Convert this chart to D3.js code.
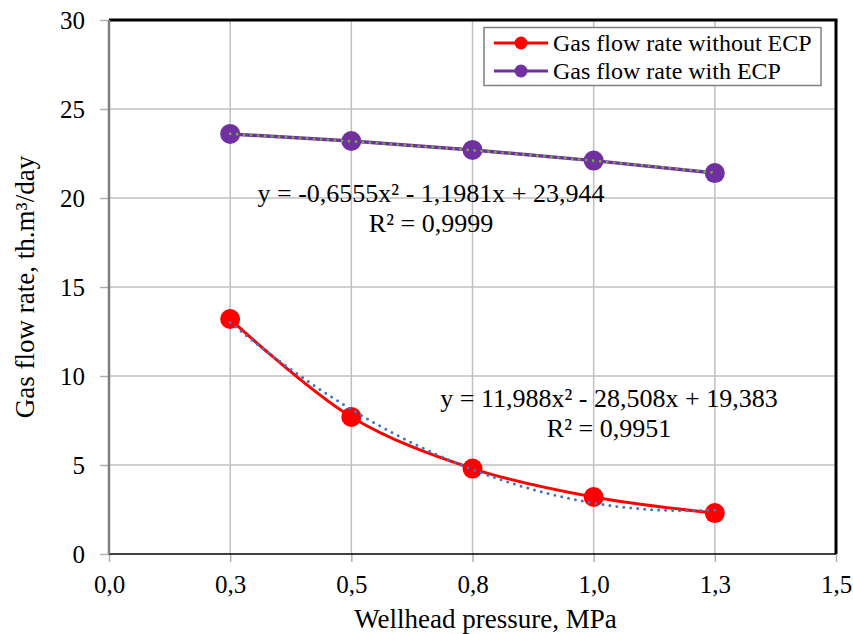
<!DOCTYPE html>
<html>
<head>
<meta charset="utf-8">
<script src="https://cdnjs.cloudflare.com/ajax/libs/d3/7.8.5/d3.min.js"></script>
<style>
  html, body { margin: 0; padding: 0; background: #fff; }
  svg text { font-family: "Liberation Serif", "Times New Roman", serif; fill: #000; }
</style>
</head>
<body>
<svg id="chart" width="853" height="634"></svg>
<script>
// ---- data ----
const pressure = [0.25, 0.5, 0.75, 1.0, 1.25];
const flowWithoutECP = [13.2, 7.7, 4.8, 3.2, 2.3];
const flowWithECP = [23.6, 23.2, 22.7, 22.1, 21.4];
const seriesNames = ["Gas flow rate without ECP", "Gas flow rate with ECP"];
const xTicks = [0, 0.25, 0.5, 0.75, 1.0, 1.25, 1.5];
const xTickLabels = ["0,0", "0,3", "0,5", "0,8", "1,0", "1,3", "1,5"];
const yTicks = [0, 5, 10, 15, 20, 25, 30];
const yTickLabels = ["0", "5", "10", "15", "20", "25", "30"];
// polynomial trendline coefficients [a, b, c] for a*x^2 + b*x + c (as shown on chart)
const trendWithout = [11.988, -28.508, 19.383];
const trendWith = [-0.6555, -1.1981, 23.944];
const eqWithout = ["y = 11,988x² - 28,508x + 19,383", "R² = 0,9951"];
const eqWith = ["y = -0,6555x² - 1,1981x + 23,944", "R² = 0,9999"];

// ---- layout ----
const svg = d3.select("#chart");
const L = 109, R = 836, T = 20, B = 554;
const x = d3.scaleLinear().domain([0, 1.5]).range([L, R]);
const y = d3.scaleLinear().domain([0, 30]).range([B, T]);
const font = '"Liberation Serif", "Times New Roman", serif';

// gridlines
svg.append("g").selectAll("line").data(xTicks.slice(1)).join("line")
  .attr("x1", d => x(d)).attr("x2", d => x(d)).attr("y1", T).attr("y2", B)
  .attr("stroke", "#c0c0c0").attr("stroke-width", 1.5);
svg.append("g").selectAll("line").data(yTicks.slice(1)).join("line")
  .attr("x1", L).attr("x2", R).attr("y1", d => y(d)).attr("y2", d => y(d))
  .attr("stroke", "#c0c0c0").attr("stroke-width", 1.5);

// axes
const xAxis = d3.axisBottom(x).tickValues(xTicks).tickSize(8).tickFormat((d, i) => xTickLabels[i]);
const gx = svg.append("g").attr("transform", `translate(0,${B})`).call(xAxis);
gx.select(".domain").remove();
gx.selectAll(".tick line").attr("stroke", "#b0b0b0").attr("stroke-width", 1.5);
gx.selectAll(".tick text").attr("font-family", font).attr("font-size", 25).attr("fill", "#000").attr("dy", "0.95em").attr("y", 15);

const yAxis = d3.axisLeft(y).tickValues(yTicks).tickSize(9).tickFormat((d, i) => yTickLabels[i]);
const gy = svg.append("g").attr("transform", `translate(${L},0)`).call(yAxis);
gy.select(".domain").remove();
gy.selectAll(".tick line").attr("stroke", "#b0b0b0").attr("stroke-width", 1.5);
gy.selectAll(".tick text").attr("font-family", font).attr("font-size", 25).attr("fill", "#000").attr("x", -24).attr("dy", "0.34em");

// frame
svg.append("line").attr("x1", L).attr("x2", R + 1.5).attr("y1", T).attr("y2", T).attr("stroke", "#000").attr("stroke-width", 3);
svg.append("line").attr("x1", R).attr("x2", R).attr("y1", T).attr("y2", B).attr("stroke", "#000").attr("stroke-width", 3);
svg.append("line").attr("x1", L).attr("x2", R).attr("y1", B).attr("y2", B).attr("stroke", "#000").attr("stroke-width", 1.5);
svg.append("line").attr("x1", L).attr("x2", L).attr("y1", T).attr("y2", B).attr("stroke", "#7f7f7f").attr("stroke-width", 2.5);

// series lines
const ptsWithout = pressure.map((p, i) => [p, flowWithoutECP[i]]);
const ptsWith = pressure.map((p, i) => [p, flowWithECP[i]]);
const smooth = d3.line().x(d => x(d[0])).y(d => y(d[1])).curve(d3.curveCatmullRom.alpha(0.5));
const straight = d3.line().x(d => x(d[0])).y(d => y(d[1]));

svg.append("path").datum(ptsWith).attr("d", straight)
  .attr("fill", "none").attr("stroke", "#7030A0").attr("stroke-width", 3.5);
svg.append("path").datum(ptsWithout).attr("d", smooth)
  .attr("fill", "none").attr("stroke", "#FF0000").attr("stroke-width", 3);

// markers
svg.append("g").selectAll("circle").data(ptsWith).join("circle")
  .attr("cx", d => x(d[0])).attr("cy", d => y(d[1])).attr("r", 10).attr("fill", "#7030A0");
svg.append("g").selectAll("circle").data(ptsWithout).join("circle")
  .attr("cx", d => x(d[0])).attr("cy", d => y(d[1])).attr("r", 10).attr("fill", "#FF0000");

// trendlines
function trendPoints(c) {
  const xs = d3.range(0, 101).map(i => pressure[0] + (pressure[pressure.length - 1] - pressure[0]) * i / 100);
  return xs.map(v => [v, c[0] * v * v + c[1] * v + c[2]]);
}
svg.append("path").datum(trendPoints(trendWith)).attr("d", straight)
  .attr("fill", "none").attr("stroke", "#70AD47").attr("stroke-width", 2.8)
  .attr("stroke-linecap", "round").attr("stroke-dasharray", "0 7");
svg.append("path").datum(trendPoints(trendWithout)).attr("d", straight)
  .attr("fill", "none").attr("stroke", "#4472C4").attr("stroke-width", 3)
  .attr("stroke-linecap", "round").attr("stroke-dasharray", "0 7");

// equation labels
function eq(lines, cx, by) {
  const t = svg.append("text").attr("text-anchor", "middle").attr("font-size", 26).attr("font-family", font);
  lines.forEach((s, i) => t.append("tspan").attr("x", cx).attr("y", by + i * 30).text(s));
}
eq(eqWith, 431, 202);
eq(eqWithout, 609, 407);

// axis titles
svg.append("text").attr("x", (L + R) / 2 + 13).attr("y", 628).attr("text-anchor", "middle")
  .attr("font-size", 27).attr("font-family", font).text("Wellhead pressure, MPa");
svg.append("text").attr("transform", `translate(34,${(T + B) / 2}) rotate(-90)`).attr("text-anchor", "middle")
  .attr("font-size", 27).attr("font-family", font).text("Gas flow rate, th.m³/day");

// legend
const lg = svg.append("g");
lg.append("rect").attr("x", 484).attr("y", 27.5).attr("width", 337).attr("height", 58)
  .attr("fill", "#fff").attr("stroke", "#7f7f7f").attr("stroke-width", 1.5);
const legendColors = ["#FF0000", "#7030A0"];
seriesNames.forEach((name, i) => {
  const cy = 43 + i * 28;
  lg.append("line").attr("x1", 494).attr("x2", 548).attr("y1", cy).attr("y2", cy)
    .attr("stroke", legendColors[i]).attr("stroke-width", 3);
  lg.append("circle").attr("cx", 521).attr("cy", cy).attr("r", 6.5).attr("fill", legendColors[i]);
  lg.append("text").attr("x", 553).attr("y", cy).attr("dy", "0.34em")
    .attr("font-size", 24).attr("font-family", font).text(name);
});
</script>
</body>
</html>
